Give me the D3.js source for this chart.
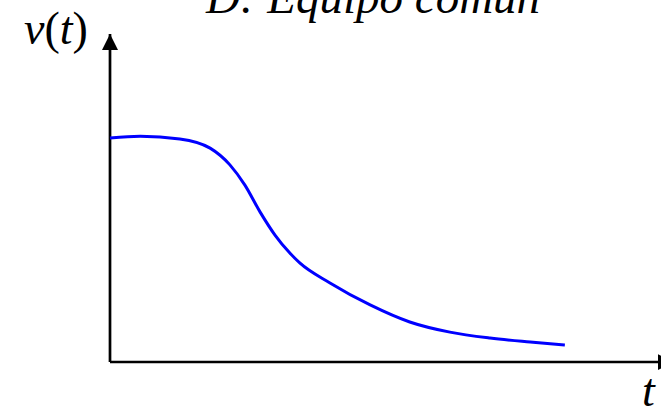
<!DOCTYPE html>
<html>
<head>
<meta charset="utf-8">
<script src="https://cdn.jsdelivr.net/npm/d3@7"></script>
<style>
  html, body { margin: 0; padding: 0; background: #fff; }
  svg { display: block; }
  text { font-family: "Liberation Serif", "Times New Roman", serif; fill: #000; }
</style>
</head>
<body>
<div id="chart"></div>
<script>
// speed curve (arbitrary units)
const times  = [0, 0.55, 1.27, 1.82, 2.18, 2.45, 2.73, 3.0, 3.27, 3.45, 4.0, 4.73, 5.45, 6.18, 6.91, 7.64, 8.27];
const speeds = [0.683, 0.688, 0.680, 0.652, 0.601, 0.540, 0.457, 0.387, 0.332, 0.302, 0.241, 0.174, 0.122, 0.091, 0.073, 0.061, 0.052];
const title = "D: Equipo común";

const width = 661, height = 409;
const margin = { top: 34, right: 1, bottom: 47, left: 110 };

const svg = d3.select("#chart").append("svg")
  .attr("width", width).attr("height", height);

const x = d3.scaleLinear().domain([0, 10]).range([margin.left, width - margin.right]);
const y = d3.scaleLinear().domain([0, 1]).range([height - margin.bottom, margin.top]);

svg.append("defs").append("marker")
  .attr("id", "arrow")
  .attr("viewBox", "0 0 16 16")
  .attr("refX", 16).attr("refY", 8)
  .attr("markerWidth", 16).attr("markerHeight", 16)
  .attr("markerUnits", "userSpaceOnUse")
  .attr("orient", "auto")
  .append("path").attr("d", "M0,0L16,8L0,16Z").attr("fill", "#000");

// axes with arrow heads; the time arrow runs past the right edge
svg.append("line")
  .attr("x1", x(0)).attr("y1", y(0)).attr("x2", x(0)).attr("y2", y(1))
  .attr("stroke", "#000").attr("stroke-width", 2.7).attr("marker-end", "url(#arrow)");
svg.append("line")
  .attr("x1", x(0)).attr("y1", y(0)).attr("x2", x(10.25)).attr("y2", y(0))
  .attr("stroke", "#000").attr("stroke-width", 2.7).attr("marker-end", "url(#arrow)");

const data = times.map((t, i) => ({ t, v: speeds[i] }));
svg.append("path").datum(data)
  .attr("fill", "none")
  .attr("stroke", "#0000ff")
  .attr("stroke-width", 3)
  .attr("d", d3.line().x(d => x(d.t)).y(d => y(d.v)).curve(d3.curveMonotoneX));

svg.append("text")
  .attr("x", 373).attr("y", 13)
  .attr("text-anchor", "middle")
  .attr("font-size", 47).attr("font-style", "italic")
  .text(title);

const vl = svg.append("text").attr("x", 24).attr("y", 44).attr("font-size", 46);
vl.append("tspan").attr("font-style", "italic").text("v");
vl.append("tspan").text("(");
vl.append("tspan").attr("font-style", "italic").text("t");
vl.append("tspan").text(")");

svg.append("text")
  .attr("x", 642).attr("y", 406)
  .attr("font-size", 46).attr("font-style", "italic")
  .text("t");
</script>
</body>
</html>
